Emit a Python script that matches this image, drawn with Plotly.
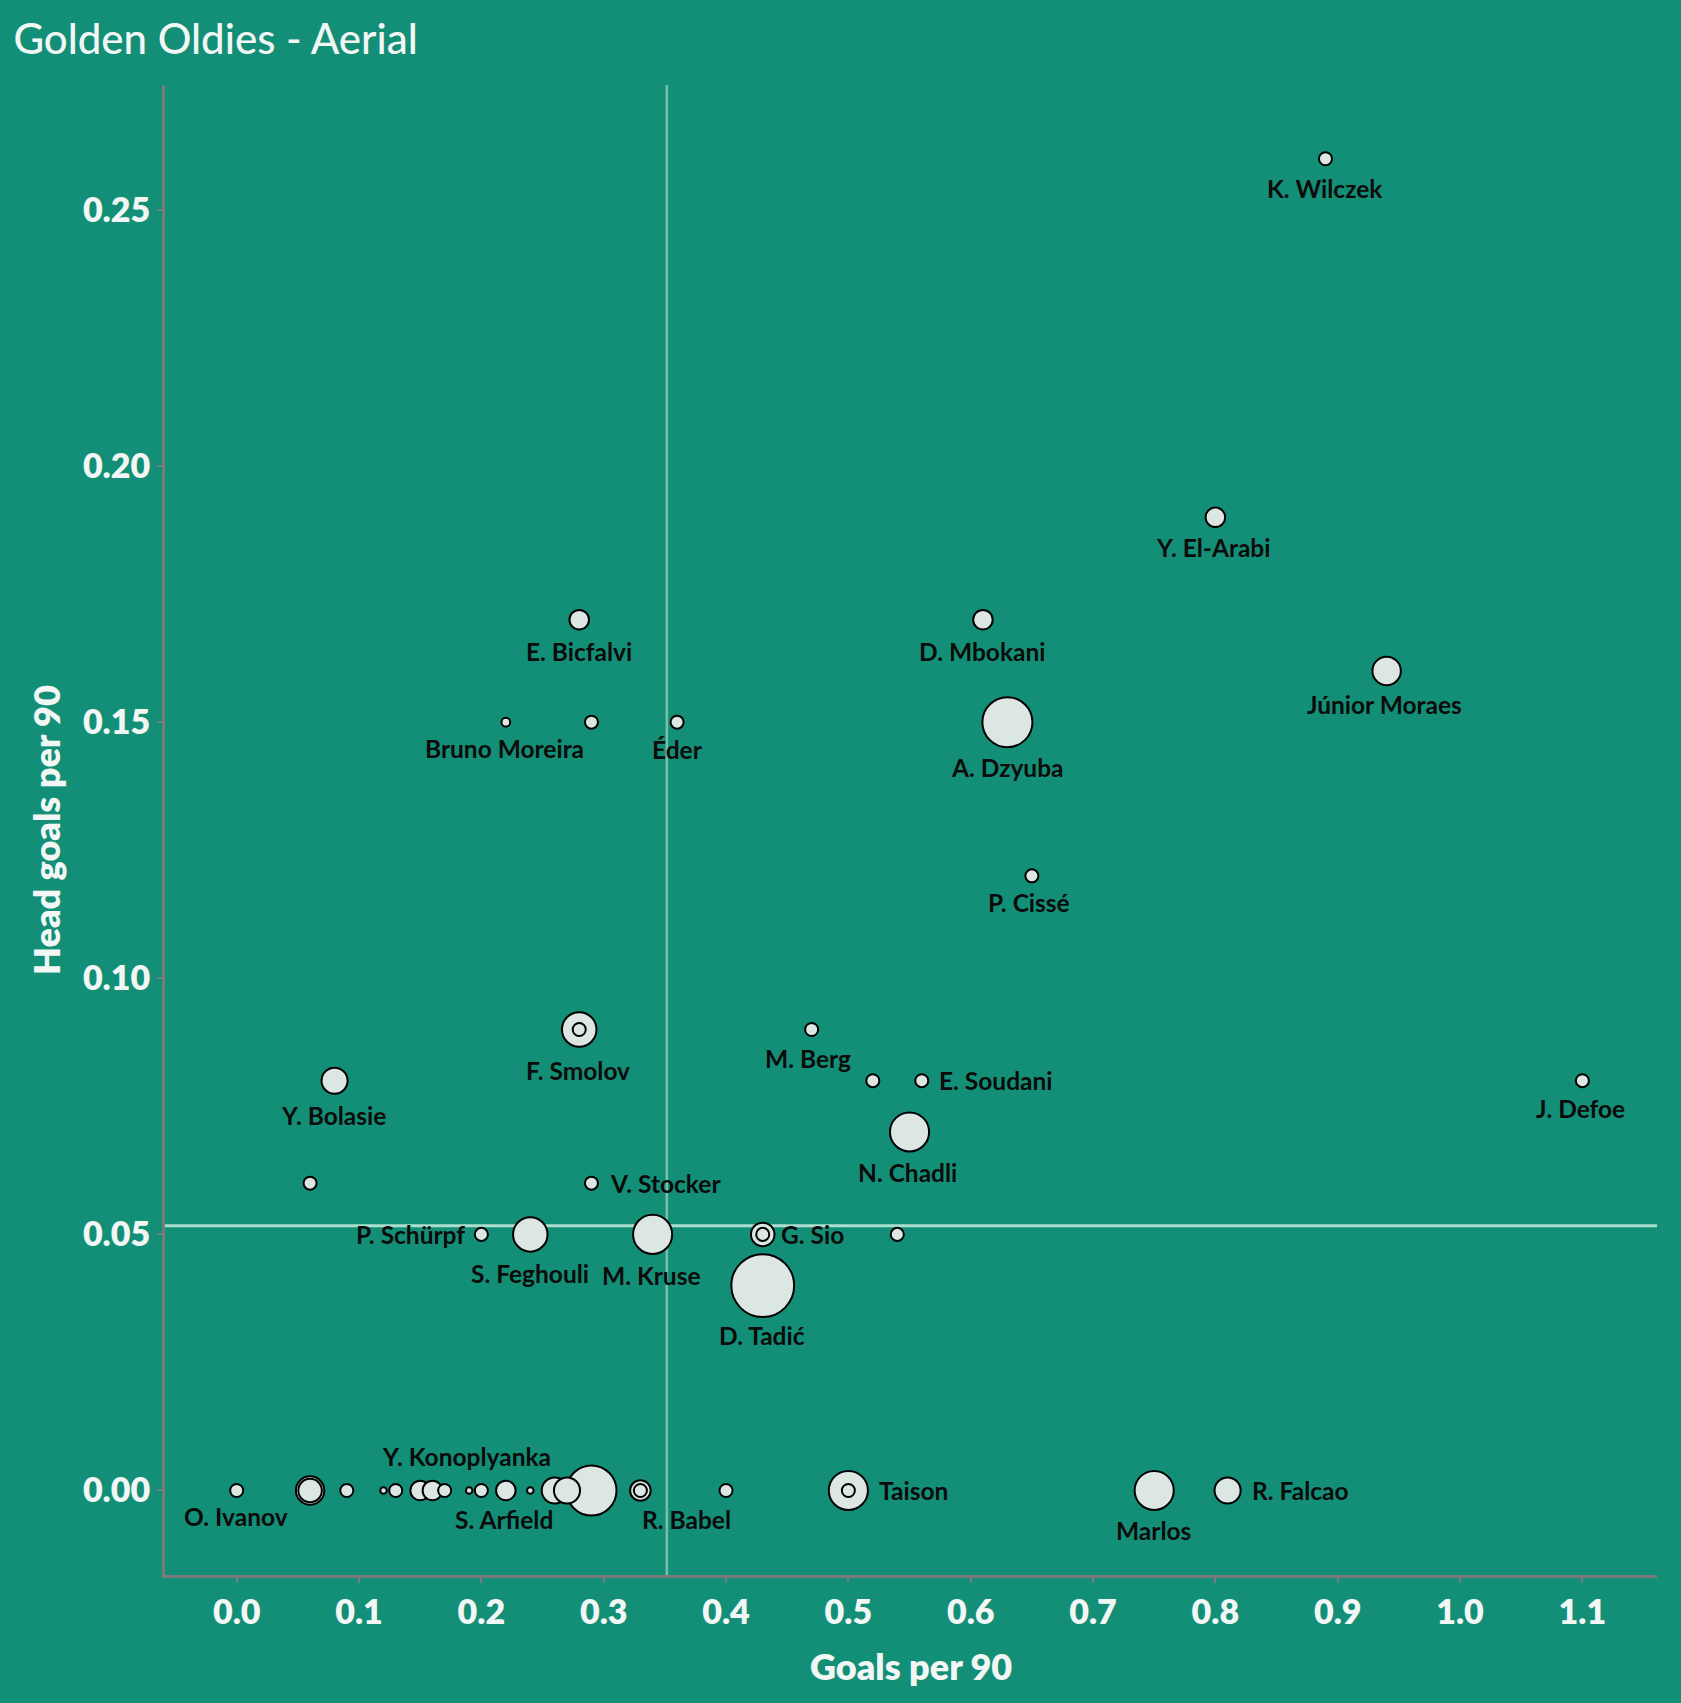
import plotly.graph_objects as go

# ---------------- data ----------------
goals_per90 = [0.89, 0.80, 0.28, 0.61, 0.94, 0.22, 0.29, 0.36, 0.63, 0.65,
               0.28, 0.28, 0.47, 0.52, 0.56, 0.08, 1.10, 0.55, 0.06, 0.29,
               0.20, 0.24, 0.34, 0.43, 0.43, 0.54, 0.43,
               0.00, 0.06, 0.06, 0.09, 0.12, 0.13, 0.15, 0.16, 0.17, 0.19,
               0.20, 0.22, 0.24, 0.26, 0.27, 0.29, 0.33, 0.33, 0.40, 0.50,
               0.50, 0.75, 0.81]
head_per90 = [0.26, 0.19, 0.17, 0.17, 0.16, 0.15, 0.15, 0.15, 0.15, 0.12,
              0.09, 0.09, 0.09, 0.08, 0.08, 0.08, 0.08, 0.07, 0.06, 0.06,
              0.05, 0.05, 0.05, 0.05, 0.05, 0.05, 0.04,
              0.00, 0.00, 0.00, 0.00, 0.00, 0.00, 0.00, 0.00, 0.00, 0.00,
              0.00, 0.00, 0.00, 0.00, 0.00, 0.00, 0.00, 0.00, 0.00, 0.00,
              0.00, 0.00, 0.00]
volume = [4, 9, 9, 9, 19, 1.8, 4, 4, 59, 4,
          28, 4, 4, 4, 4, 16, 4, 36, 4, 4,
          4, 28, 36, 13, 4, 4, 93,
          4, 19, 13, 4, 1, 4, 9, 9, 4, 1,
          4, 9, 1, 16, 16, 59, 10, 4, 4, 36,
          4, 36, 16]
names = ["K. Wilczek", "Y. El-Arabi", "E. Bicfalvi", "D. Mbokani", "Júnior Moraes",
         "Bruno Moreira", "", "Éder", "A. Dzyuba", "P. Cissé",
         "F. Smolov", "", "M. Berg", "", "E. Soudani", "Y. Bolasie", "J. Defoe",
         "N. Chadli", "", "V. Stocker",
         "P. Schürpf", "S. Feghouli", "M. Kruse", "G. Sio", "", "", "D. Tadić",
         "O. Ivanov", "", "", "", "", "", "", "", "", "Y. Konoplyanka",
         "", "S. Arfield", "", "", "", "", "R. Babel", "", "", "Taison",
         "", "Marlos", "R. Falcao"]

x_ticks = [0.0, 0.1, 0.2, 0.3, 0.4, 0.5, 0.6, 0.7, 0.8, 0.9, 1.0, 1.1]
y_ticks = [0.00, 0.05, 0.10, 0.15, 0.20, 0.25]
x_ref = 0.3516
y_ref = 0.0517

# ---------------- label placement (style) ----------------
S = 1.086
label_style = {
    "K. Wilczek": ("below", 0, 27), "Y. El-Arabi": ("below", -2, 28),
    "E. Bicfalvi": ("below", 0, 29), "D. Mbokani": ("below", -1, 29),
    "Júnior Moraes": ("below", -2, 31), "Bruno Moreira": ("below", -1, 24),
    "Éder": ("below", 0, 25), "A. Dzyuba": ("below", 0, 42),
    "P. Cissé": ("below", -3, 25), "F. Smolov": ("below", -1, 38),
    "M. Berg": ("below", -3, 27), "E. Soudani": ("right", 14, 0),
    "Y. Bolasie": ("below", -1, 32), "J. Defoe": ("below", -2, 26),
    "N. Chadli": ("below", -2, 37), "V. Stocker": ("right", 15, 0),
    "P. Schürpf": ("left", -13, 0), "S. Feghouli": ("below", 0, 36),
    "M. Kruse": ("below", -1, 38), "G. Sio": ("right", 15, 0),
    "D. Tadić": ("below", -1, 46), "O. Ivanov": ("below", -1, 24),
    "Y. Konoplyanka": ("below", -2, -31), "S. Arfield": ("below", -2, 27),
    "R. Babel": ("below", 42, 27), "Taison": ("right", 26, 0),
    "Marlos": ("below", -1, 37), "R. Falcao": ("right", 21, 0),
}

BG = "#148F77"
FONT = "Lato"
WHITE = "#F2F7F5"

order = sorted(range(len(volume)), key=lambda i: -volume[i])
xs = [goals_per90[i] for i in order]
ys = [head_per90[i] for i in order]
vs = [volume[i] for i in order]
ns = [names[i] for i in order]

fig = go.Figure()
fig.add_trace(go.Scatter(
    x=xs, y=ys, mode="markers", text=ns, hoverinfo="text+x+y",
    marker=dict(size=vs, sizemode="area", sizeref=1 / 21.25, sizemin=3, opacity=1,
                color="#DCE6E3", line=dict(color="#000000", width=2)),
    showlegend=False,
))

for xi, yi, ni in zip(goals_per90, head_per90, names):
    if not ni:
        continue
    pos, dx, dy = label_style[ni]
    anchor = {"below": "center", "right": "left", "left": "right"}[pos]
    fig.add_annotation(x=xi, y=yi, text=ni, showarrow=False,
                       xanchor=anchor, yanchor="middle",
                       xshift=dx * S, yshift=-dy * S,
                       font=dict(family=FONT, size=24.5, color="#0b0b0b", weight=700))

fig.add_shape(type="line", xref="x", yref="paper", x0=x_ref, x1=x_ref, y0=0, y1=1,
              line=dict(color="rgba(165,210,195,0.7)", width=2.5), layer="below")
fig.add_shape(type="line", xref="paper", yref="y", x0=0, x1=1, y0=y_ref, y1=y_ref,
              line=dict(color="rgba(190,232,218,0.9)", width=3), layer="below")

# axis titles as paper annotations
fig.add_annotation(xref="paper", yref="paper", x=0.5, y=-0.0611, text="Goals per 90",
                   showarrow=False, xanchor="center", yanchor="middle",
                   font=dict(family=FONT, size=36, color=WHITE, weight=800))
fig.add_annotation(xref="paper", yref="paper", x=-0.0798, y=0.5, text="Head goals per 90",
                   showarrow=False, xanchor="center", yanchor="middle", textangle=-90,
                   font=dict(family=FONT, size=36, color=WHITE, weight=800))

axis_common = dict(showgrid=False, zeroline=False, showline=True, linecolor="#7a7a7a",
                   linewidth=3, ticks="outside", ticklen=5, tickcolor="#7a7a7a",
                   tickwidth=2, tickfont=dict(family=FONT, size=34, color=WHITE, weight=800))

fig.update_layout(
    width=1681, height=1703,
    paper_bgcolor=BG, plot_bgcolor=BG,
    margin=dict(l=165, r=24, t=85, b=128),
    title=dict(text="Golden Oldies - Aerial", x=0.008, xanchor="left", y=0.977, yanchor="middle",
               font=dict(family=FONT, size=42, color=WHITE, weight=500)),
    xaxis=dict(range=[-0.0586, 1.161], tickvals=x_ticks, tickformat=".1f", **axis_common),
    yaxis=dict(range=[-0.0165, 0.2744], tickvals=y_ticks, tickformat=".2f", **axis_common),
)

fig.write_html("out.html", config={"displayModeBar": False},
               post_script="document.body.style.margin='0';document.body.style.background='#148F77';")
